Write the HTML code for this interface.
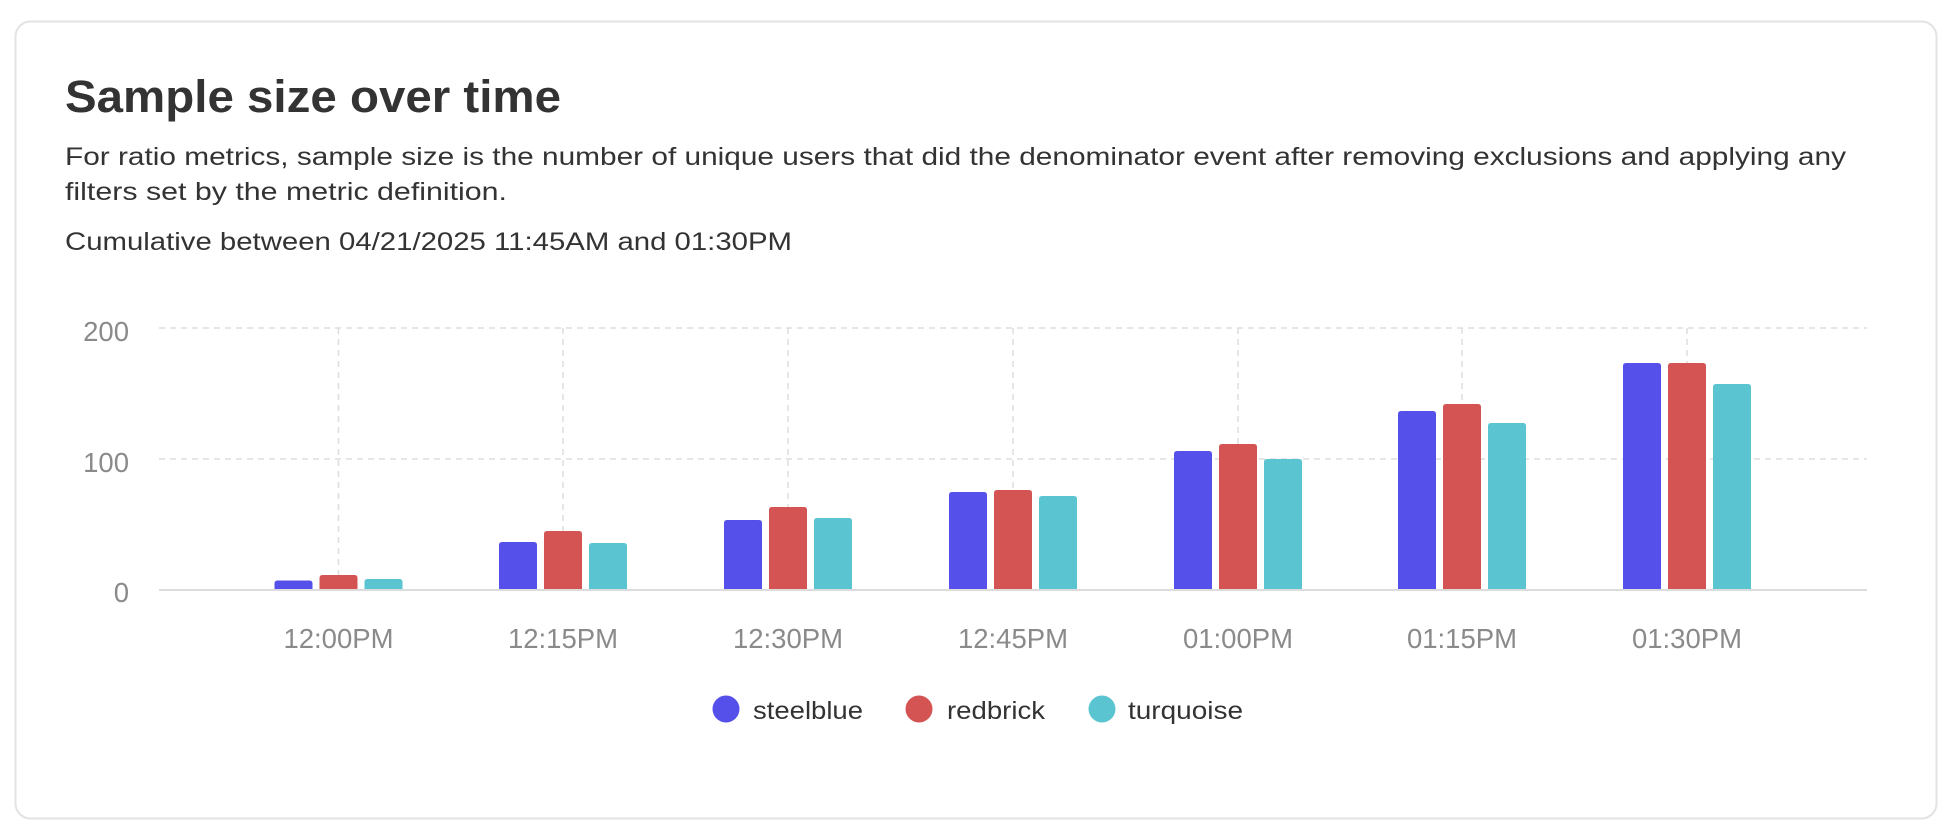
<!DOCTYPE html>
<html><head><meta charset="utf-8"><style>
html,body{margin:0;padding:0;background:#fff;width:1958px;height:838px;overflow:hidden}
svg{display:block}
text{font-family:"Liberation Sans",sans-serif}
</style></head><body>
<svg width="1958" height="838" viewBox="0 0 1958 838" xmlns="http://www.w3.org/2000/svg">
<rect x="15.5" y="21.5" width="1921" height="797" rx="15" fill="#fff" stroke="#e3e3e3" stroke-width="2"/>
<text x="65" y="112" font-size="45" font-weight="bold" fill="#333" textLength="496" lengthAdjust="spacingAndGlyphs">Sample size over time</text>
<text x="65" y="165" font-size="25" fill="#333" textLength="1781" lengthAdjust="spacingAndGlyphs">For ratio metrics, sample size is the number of unique users that did the denominator event after removing exclusions and applying any</text>
<text x="65" y="200" font-size="25" fill="#333" textLength="442" lengthAdjust="spacingAndGlyphs">filters set by the metric definition.</text>
<text x="65" y="250" font-size="25" fill="#333" textLength="727" lengthAdjust="spacingAndGlyphs">Cumulative between 04/21/2025 11:45AM and 01:30PM</text>
<g stroke="#dedede" stroke-width="1.5" stroke-dasharray="6,5" fill="none">
<line x1="159" y1="328" x2="1867" y2="328"/>
<line x1="159" y1="459" x2="1867" y2="459"/>
<line x1="338.5" y1="328" x2="338.5" y2="589"/>
<line x1="563" y1="328" x2="563" y2="589"/>
<line x1="788" y1="328" x2="788" y2="589"/>
<line x1="1013" y1="328" x2="1013" y2="589"/>
<line x1="1238" y1="328" x2="1238" y2="589"/>
<line x1="1462" y1="328" x2="1462" y2="589"/>
<line x1="1687" y1="328" x2="1687" y2="589"/>
</g>
<g font-size="27.5" fill="#8a8a8a" text-anchor="end">
<text x="129" y="341">200</text><text x="129" y="472">100</text><text x="129" y="602">0</text>
</g>
<line x1="159" y1="590" x2="1867" y2="590" stroke="#dcdcdc" stroke-width="2"/>
<g font-size="27.5" fill="#8a8a8a" text-anchor="middle">
<text x="338.5" y="648">12:00PM</text><text x="563" y="648">12:15PM</text><text x="788" y="648">12:30PM</text><text x="1013" y="648">12:45PM</text><text x="1238" y="648">01:00PM</text><text x="1462" y="648">01:15PM</text><text x="1687" y="648">01:30PM</text>
</g>
<circle cx="726" cy="709" r="13.5" fill="#5550EA"/>
<text x="753" y="719" font-size="25" fill="#333" textLength="110" lengthAdjust="spacingAndGlyphs">steelblue</text>
<circle cx="919" cy="709" r="13.5" fill="#D45353"/>
<text x="947" y="719" font-size="25" fill="#333" textLength="98" lengthAdjust="spacingAndGlyphs">redbrick</text>
<circle cx="1102" cy="709" r="13.5" fill="#5BC4D1"/>
<text x="1128" y="719" font-size="25" fill="#333" textLength="115" lengthAdjust="spacingAndGlyphs">turquoise</text>
<g>
<path d="M274.5,589 V583.5 q0,-3 3,-3 h32 q3,0 3,3 V589 Z" fill="#5550EA"/>
<path d="M319.5,589 V578 q0,-3 3,-3 h32 q3,0 3,3 V589 Z" fill="#D45353"/>
<path d="M364.5,589 V582 q0,-3 3,-3 h32 q3,0 3,3 V589 Z" fill="#5BC4D1"/>

<path d="M499,589 V545 q0,-3 3,-3 h32 q3,0 3,3 V589 Z" fill="#5550EA"/>
<path d="M544,589 V534 q0,-3 3,-3 h32 q3,0 3,3 V589 Z" fill="#D45353"/>
<path d="M589,589 V546 q0,-3 3,-3 h32 q3,0 3,3 V589 Z" fill="#5BC4D1"/>

<path d="M724,589 V523 q0,-3 3,-3 h32 q3,0 3,3 V589 Z" fill="#5550EA"/>
<path d="M769,589 V510 q0,-3 3,-3 h32 q3,0 3,3 V589 Z" fill="#D45353"/>
<path d="M814,589 V521 q0,-3 3,-3 h32 q3,0 3,3 V589 Z" fill="#5BC4D1"/>

<path d="M949,589 V495 q0,-3 3,-3 h32 q3,0 3,3 V589 Z" fill="#5550EA"/>
<path d="M994,589 V493 q0,-3 3,-3 h32 q3,0 3,3 V589 Z" fill="#D45353"/>
<path d="M1039,589 V499 q0,-3 3,-3 h32 q3,0 3,3 V589 Z" fill="#5BC4D1"/>

<path d="M1174,589 V454 q0,-3 3,-3 h32 q3,0 3,3 V589 Z" fill="#5550EA"/>
<path d="M1219,589 V447 q0,-3 3,-3 h32 q3,0 3,3 V589 Z" fill="#D45353"/>
<path d="M1264,589 V462 q0,-3 3,-3 h32 q3,0 3,3 V589 Z" fill="#5BC4D1"/>

<path d="M1398,589 V414 q0,-3 3,-3 h32 q3,0 3,3 V589 Z" fill="#5550EA"/>
<path d="M1443,589 V407 q0,-3 3,-3 h32 q3,0 3,3 V589 Z" fill="#D45353"/>
<path d="M1488,589 V426 q0,-3 3,-3 h32 q3,0 3,3 V589 Z" fill="#5BC4D1"/>

<path d="M1623,589 V366 q0,-3 3,-3 h32 q3,0 3,3 V589 Z" fill="#5550EA"/>
<path d="M1668,589 V366 q0,-3 3,-3 h32 q3,0 3,3 V589 Z" fill="#D45353"/>
<path d="M1713,589 V387 q0,-3 3,-3 h32 q3,0 3,3 V589 Z" fill="#5BC4D1"/>
</g>
</svg>
</body></html>
